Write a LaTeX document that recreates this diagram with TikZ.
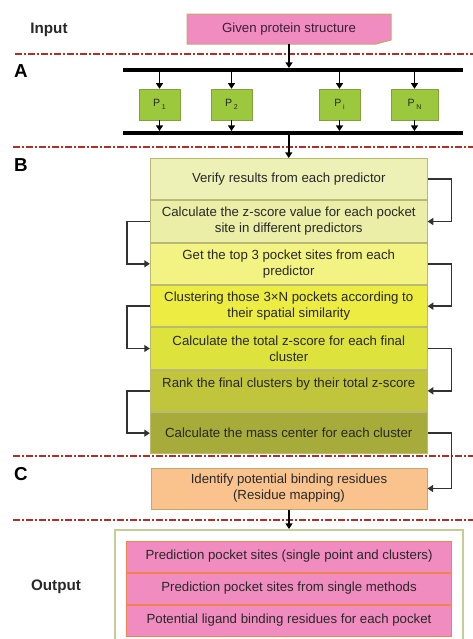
\documentclass[tikz,border=0pt]{standalone}
\usepackage{fontspec}
\setmainfont{Liberation Sans}
\usetikzlibrary{positioning,arrows.meta}

\definecolor{pinkbox}{RGB}{240,140,192}
\definecolor{givenline}{RGB}{190,170,110}
\definecolor{pgreen}{RGB}{155,200,60}
\definecolor{pline}{RGB}{130,160,60}
\definecolor{rowline}{RGB}{185,185,115}
\definecolor{rowA}{RGB}{238,241,182}
\definecolor{rowB}{RGB}{234,238,166}
\definecolor{rowC}{RGB}{243,243,132}
\definecolor{rowD}{RGB}{236,236,66}
\definecolor{rowE}{RGB}{221,226,60}
\definecolor{rowF}{RGB}{192,197,60}
\definecolor{rowG}{RGB}{167,171,57}
\definecolor{peach}{RGB}{250,195,142}
\definecolor{outline}{RGB}{195,205,150}
\definecolor{orangeline}{RGB}{242,130,80}
\definecolor{sepred}{RGB}{170,50,40}
\definecolor{linkgray}{RGB}{50,50,50}
\definecolor{textgray}{RGB}{40,40,40}

\tikzset{
  sep/.style={draw=sepred, line width=0.45mm, dash pattern=on 2.1mm off 0.6mm on 0.45mm off 0.75mm},
  bar/.style={line width=1.2mm},
  arr/.style={-{Triangle[length=1.7mm,width=2.1mm]}, line width=0.5mm},
  link/.style={-{Triangle[length=1.7mm,width=2.1mm]}, draw=linkgray, line width=0.5mm},
  txt/.style={text=textgray, font=\fontsize{11.3}{13.6}\selectfont, align=center, inner sep=0pt},
  pbox/.style={draw=pline, fill=pgreen, minimum height=9.3mm, text=textgray,
    font=\fontsize{9}{10}\selectfont, inner sep=0pt},
  stepbox/.style={txt, draw=rowline, line width=0.3mm, minimum width=83mm, minimum height=12.4mm},
  outrow/.style={txt, draw=orangeline, fill=pinkbox, line width=0.3mm, minimum width=97.2mm, minimum height=9.3mm},
  lab/.style={font=\bfseries\fontsize{13}{15}\selectfont, text=textgray},
  sec/.style={font=\bfseries\fontsize{16}{18}\selectfont},
}

\begin{document}
\begin{tikzpicture}[x=0.3mm, y=-0.3mm]
  \useasboundingbox (0,0) rectangle (473,639);

  % section separators
  \draw[sep] (15,54) -- (473,54);
  \draw[sep] (13,147) -- (473,147);
  \draw[sep] (13,456) -- (473,456);
  \draw[sep] (13,520) -- (473,520);

  % labels
  \node[lab] (input) at (49,30) {Input};
  \node[sec] (secA) at (21,71) {A};
  \node[sec] (secB) at (21,165) {B};
  \node[sec] (secC) at (21,474) {C};
  \node[lab] (output) at (56,587) {Output};

  % input
  \fill[pinkbox, draw=givenline, line width=0.3mm]
    (187,14) -- (391,14) -- (391,40) -- (376,44) -- (187,44) -- cycle;
  \node[txt, text={rgb,255:red,60;green,30;blue,55}, minimum width=61.2mm, minimum height=9mm] (given) at (289,29) {Given protein structure};

  % A: predictors
  \coordinate (barA1) at (123,70);
  \coordinate (barA2) at (463,70);
  \coordinate (barB1) at (123,133);
  \coordinate (barB2) at (463,133);
  \draw[bar] (barA1) -- (barA2);
  \draw[bar] (barB1) -- (barB2);
  \draw[arr, shorten >=0.6mm] (given.south) -- (given.south |- barA1);

  \node[pbox, minimum width=12.3mm] (p1) at (159.5,104.5) {P\,\raisebox{-0.5ex}{\fontsize{6}{6}\selectfont 1}};
  \node[pbox, minimum width=12.3mm] (p2) at (231.5,104.5) {P\,\raisebox{-0.5ex}{\fontsize{6}{6}\selectfont 2}};
  \node[pbox, minimum width=12.3mm] (pi) at (339.5,104.5) {P\,\raisebox{-0.5ex}{\fontsize{6}{6}\selectfont i}};
  \node[pbox, minimum width=14.1mm] (pN) at (414.5,104.5) {P\,\raisebox{-0.5ex}{\fontsize{6}{6}\selectfont N}};

  \foreach \p in {p1,p2,pi,pN} {
    \draw[arr] (\p |- barA1) -- (\p.north);
    \draw[arr, shorten >=0.6mm] (\p.south) -- (\p |- barB1);
  }

  % B: combination steps
  \node[stepbox, fill=rowA, anchor=north] (r1) at (288.75,158) {Verify results from each predictor};
  \node[stepbox, fill=rowB, below=0pt of r1] (r2) {Calculate the z-score value for each pocket\\site in different predictors};
  \node[stepbox, fill=rowC, below=0pt of r2] (r3) {Get the top 3 pocket sites from each\\predictor};
  \node[stepbox, fill=rowD, below=0pt of r3] (r4) {Clustering those 3×N pockets according to\\their spatial similarity};
  \node[stepbox, fill=rowE, below=0pt of r4] (r5) {Calculate the total z-score for each final\\cluster};
  \node[stepbox, fill=rowF, below=0pt of r5] (r6) {Rank the final clusters by their total z-score\\\mbox{}};
  \node[stepbox, fill=rowG, below=0pt of r6] (r7) {Calculate the mass center for each cluster};

  \draw[arr] (r1.north |- barB1) -- (r1.north);

  \draw[link] (r1.east) -- ++(24,0) |- (r2.east);
  \draw[link] (r2.west) -- ++(-23,0) |- (r3.west);
  \draw[link] (r3.east) -- ++(24,0) |- (r4.east);
  \draw[link] (r4.west) -- ++(-23,0) |- (r5.west);
  \draw[link] (r5.east) -- ++(24,0) |- (r6.east);
  \draw[link] (r6.west) -- ++(-23,0) |- (r7.west);

  % C: residue mapping
  \node[txt, draw=givenline, fill=peach, line width=0.3mm, minimum width=82.8mm, minimum height=12.3mm] (cres) at (289,488.5)
    {Identify potential binding residues\\(Residue mapping)};
  \draw[link] (r7.east) -- ++(24,0) |- (cres.east);

  % output
  \node[draw=outline, line width=0.45mm, minimum width=104.4mm, minimum height=34.8mm, anchor=north] (outbox) at (289,529) {};
  \draw[arr] (cres.south) -- (outbox.north);

  \node[outrow, anchor=north] (o1) at (289,540.5) {Prediction pocket sites (single point and clusters)};
  \node[outrow, below=0pt of o1] (o2) {Prediction pocket sites from single methods};
  \node[outrow, below=0pt of o2] (o3) {Potential ligand binding residues for each pocket};
\end{tikzpicture}
\end{document}
